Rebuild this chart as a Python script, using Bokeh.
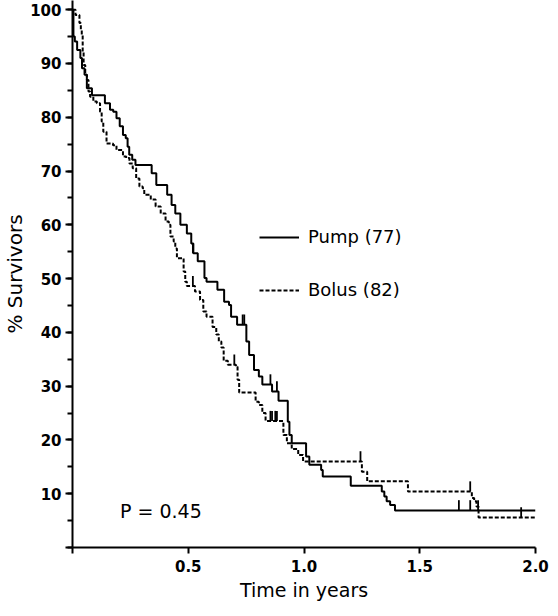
import numpy as np
from bokeh.plotting import figure
from bokeh.models import (Range1d, SingleIntervalTicker, FixedTicker, Legend,
                          LegendItem, Label)
from bokeh.embed import file_html
from bokeh.resources import INLINE

# ---- data ----
pump_t = [0.000, 0.004, 0.010, 0.020, 0.034, 0.041, 0.052, 0.062, 0.084, 0.140,
          0.162, 0.176, 0.190, 0.204, 0.218, 0.230, 0.238, 0.245, 0.258, 0.272,
          0.342, 0.362, 0.409, 0.428, 0.444, 0.466, 0.494, 0.513, 0.522, 0.541,
          0.570, 0.579, 0.626, 0.655, 0.676, 0.685, 0.711, 0.751, 0.763, 0.784,
          0.805, 0.820, 0.862, 0.890, 0.930, 0.937, 0.947, 1.009, 1.023, 1.074,
          1.081, 1.202, 1.336, 1.347, 1.357, 1.372, 1.393, 2.000]
pump_s = [100.0, 95.0, 94.1, 92.5, 91.0, 89.1, 87.9, 85.4, 84.1, 82.6,
          81.4, 81.0, 79.8, 78.3, 76.7, 76.1, 74.5, 73.0, 72.1, 71.1,
          69.6, 67.4, 65.6, 63.7, 62.1, 60.0, 58.4, 56.5, 54.7, 53.2,
          50.1, 49.4, 47.9, 45.7, 45.1, 42.9, 41.4, 38.3, 35.8, 33.0,
          31.8, 30.3, 29.0, 27.3, 23.4, 20.9, 19.4, 16.9, 15.4, 14.4,
          13.2, 11.5, 10.4, 9.5, 8.6, 7.9, 6.9, 6.9]

bolus_t = [0.000, 0.013, 0.030, 0.036, 0.040, 0.044, 0.048, 0.055, 0.062, 0.069,
           0.076, 0.090, 0.105, 0.119, 0.126, 0.133, 0.147, 0.175, 0.190, 0.218,
           0.232, 0.246, 0.260, 0.275, 0.289, 0.303, 0.310, 0.338, 0.359, 0.381,
           0.402, 0.416, 0.423, 0.437, 0.444, 0.451, 0.480, 0.487, 0.494, 0.529,
           0.551, 0.565, 0.579, 0.605, 0.621, 0.632, 0.643, 0.653, 0.671, 0.706,
           0.713, 0.720, 0.791, 0.805, 0.820, 0.834, 0.911, 0.926, 0.947, 0.975,
           0.996, 1.250, 1.273, 1.449, 1.725, 1.735, 1.745, 1.754, 2.000]
bolus_s = [100.0, 99.0, 97.5, 96.2, 95.3, 92.2, 89.7, 87.9, 86.9, 84.8,
           83.8, 82.9, 82.6, 81.0, 79.2, 77.3, 75.1, 74.8, 73.9, 72.7,
           72.4, 71.4, 70.5, 68.6, 67.1, 66.8, 65.6, 64.7, 63.4, 62.1,
           60.6, 60.0, 57.8, 56.9, 55.6, 53.8, 51.3, 49.4, 48.6, 47.6,
           46.0, 43.9, 42.9, 41.0, 39.6, 38.3, 37.2, 34.7, 34.0, 33.6,
           31.2, 28.8, 27.1, 26.5, 25.0, 23.5, 20.9, 19.4, 18.3, 17.2,
           16.0, 14.1, 12.3, 10.4, 9.2, 8.6, 7.6, 5.6, 5.6]

pump_cens_t = [0.520, 0.735, 0.742, 0.855, 0.883, 1.669, 1.718, 1.752]
pump_cens_s = [54.7, 41.4, 41.4, 30.3, 29.0, 6.9, 6.9, 6.9]
bolus_cens_t = [0.520, 0.699, 0.855, 0.862, 0.876, 0.883, 1.244, 1.718, 1.938]
bolus_cens_s = [48.6, 34.0, 23.5, 23.5, 23.5, 23.5, 16.0, 10.4, 5.6]
cens_height = 1.9

x_ticks = [0, 0.5, 1.0, 1.5, 2.0]
x_tick_labels = ["", "0.5", "1.0", "1.5", "2.0"]
y_ticks = [0, 10, 20, 30, 40, 50, 60, 70, 80, 90, 100]
y_tick_labels = ["", "10", "20", "30", "40", "50", "60", "70", "80", "90", "100"]
series_labels = ["Pump (77)", "Bolus (82)"]
p_text = "P = 0.45"
x_title = "Time in years"
y_title = "% Survivors"

FONT = "DejaVu Sans"

p = figure(width=550, height=606, output_backend="svg", toolbar_location=None,
           x_range=Range1d(0, 2.0), y_range=Range1d(0, 101.7),
           min_border_left=67, min_border_right=15, min_border_top=0,
           min_border_bottom=59)
p.outline_line_color = None
p.grid.visible = False
p.background_fill_color = "white"
p.border_fill_color = "white"

# axes
p.xaxis.ticker = FixedTicker(ticks=x_ticks, minor_ticks=[])
p.xaxis.major_label_overrides = {float(k): v for k, v in zip(x_ticks, x_tick_labels)}
p.yaxis.ticker = SingleIntervalTicker(interval=10, num_minor_ticks=2)
p.yaxis.major_label_overrides = {k: v for k, v in zip(y_ticks, y_tick_labels)}
for ax in (p.xaxis[0], p.yaxis[0]):
    ax.axis_line_width = 2
    ax.axis_line_color = "black"
    ax.major_tick_line_width = 2
    ax.major_tick_line_color = "black"
    ax.major_tick_in = 0
    ax.major_tick_out = 7
    ax.minor_tick_line_width = 2
    ax.minor_tick_line_color = "black"
    ax.minor_tick_in = 0
    ax.minor_tick_out = 5
    ax.major_label_text_font = FONT
    ax.major_label_text_font_size = "15px"
    ax.major_label_text_font_style = "bold"
    ax.major_label_text_color = "black"
    ax.axis_label_text_font = FONT
    ax.axis_label_text_font_size = "19px"
    ax.axis_label_text_font_style = "normal"
    ax.axis_label_text_color = "black"
p.xaxis.major_tick_out = 6
p.xaxis.major_label_standoff = 6
p.yaxis.major_label_standoff = 4
p.xaxis.axis_label = x_title
p.xaxis.axis_label_standoff = 4
p.yaxis.axis_label = y_title
p.yaxis.axis_label_text_font_size = "20px"
p.yaxis.axis_label_standoff = 0

# curves
r_pump = p.step(pump_t, pump_s, mode="after", line_color="black", line_width=2)
r_bolus = p.step(bolus_t, bolus_s, mode="after", line_color="black", line_width=2,
                 line_dash="4 2")

# censoring marks
p.segment(x0=pump_cens_t, y0=pump_cens_s, x1=pump_cens_t,
          y1=list(np.array(pump_cens_s) + cens_height), line_color="black", line_width=1.8)
p.segment(x0=bolus_cens_t, y0=bolus_cens_s, x1=bolus_cens_t,
          y1=list(np.array(bolus_cens_s) + cens_height), line_color="black", line_width=1.8)

legend = Legend(items=[LegendItem(label=series_labels[0], renderers=[r_pump]),
                       LegendItem(label=series_labels[1], renderers=[r_bolus])],
                location=(187, 247), border_line_color=None, background_fill_alpha=0,
                padding=0, margin=0, spacing=32, glyph_width=40, glyph_height=20,
                label_height=20, label_standoff=9, label_text_font=FONT,
                label_text_font_size="18px", label_text_color="black")
p.add_layout(legend)

p.add_layout(Label(x=0.205, y=6.7, text=p_text, text_baseline="middle",
                   text_font=FONT, text_font_size="19px", text_color="black"))

open("out.html", "w").write(file_html(p, INLINE))
